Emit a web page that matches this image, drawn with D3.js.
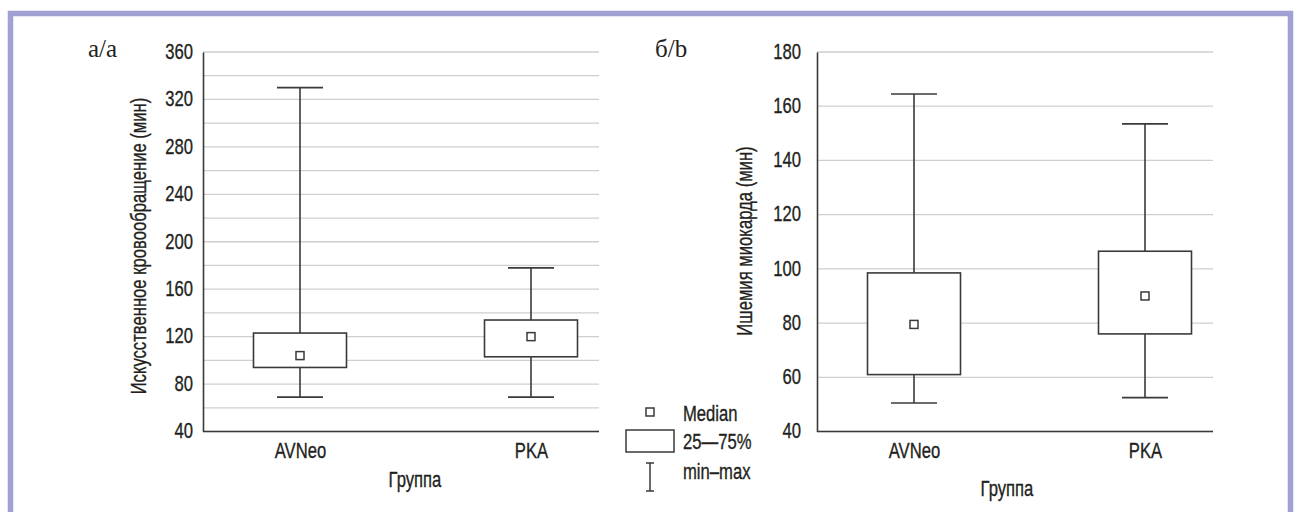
<!DOCTYPE html>
<html><head><meta charset="utf-8">
<script src="https://cdn.jsdelivr.net/npm/d3@7"></script>
<style>
html,body{margin:0;padding:0;background:#fff;}
svg{display:block;}
</style></head>
<body>
<svg id="c" width="1299" height="512"></svg>
<script>
// ---- data ----
const groups = ["AVNeo", "PKA"];
// panel a: Искусственное кровообращение (мин)
const cpbMin = [69, 69];
const cpbQ1 = [94, 103];
const cpbMed = [104, 120];
const cpbQ3 = [123, 134];
const cpbMax = [330, 178];
const cpbTicks = [40, 80, 120, 160, 200, 240, 280, 320, 360];
const cpbGrid = [40,60,80,100,120,140,160,180,200,220,240,260,280,300,320,340,360];
// panel b: Ишемия миокарда (мин)
const ischMin = [50.5, 52.5];
const ischQ1 = [61, 76];
const ischMed = [79.5, 90];
const ischQ3 = [98.5, 106.5];
const ischMax = [164.5, 153.5];
const ischTicks = [40, 60, 80, 100, 120, 140, 160, 180];
const legendLabels = ["Median", "25\u201475%", "min\u2013max"];

const svg = d3.select("#c");
const ink = "#3a3a3a";
const SANS = "'Liberation Sans', Arial, sans-serif";
const FS = 22.5, S = 0.74;

function condense(sel) {
  sel.style("font-family", SANS).style("font-size", FS + "px").style("fill", "#231f20")
    .style("stroke", "#231f20").style("stroke-width", "0.35px");
  sel.each(function () {
    const t = d3.select(this);
    const x = +(t.attr("x") || 0);
    t.attr("x", x / S);
    const tr = t.attr("transform") || "";
    t.attr("transform", tr + ` scale(${S},1)`);
  });
}

// frame
svg.append("path")
  .attr("d", "M10.5,520 L10.5,13.5 L1290.5,13.5 L1290.5,520")
  .attr("fill", "none").attr("stroke", "#a1a1d3").attr("stroke-width", 5.5);

function panel(opt) {
  const g = svg.append("g").attr("transform", `translate(${opt.left},0)`);
  const W = 396, top = 52, bottom = 431.5;
  const y = d3.scaleLinear().domain(opt.domain).range([bottom, top]);
  const x = d3.scalePoint().domain(groups).range([97, 328]);

  // grid
  g.append("g").selectAll("line").data(opt.grid).join("line")
    .attr("x1", 0).attr("x2", W)
    .attr("y1", d => y(d)).attr("y2", d => y(d))
    .attr("stroke", "#cfcfcf").attr("stroke-width", 1.3);

  // y axis
  const ya = d3.axisLeft(y).tickValues(opt.ticks).tickSize(0).tickPadding(opt.pad).tickFormat(d3.format("d"));
  const yg = g.append("g").call(ya);
  yg.select(".domain").attr("stroke", ink).attr("stroke-width", 1.6);
  yg.selectAll("text").attr("dy", "0.28em").call(condense);

  // x axis
  const xa = d3.axisBottom(x).tickSize(0).tickPadding(11);
  const xg = g.append("g").attr("transform", `translate(0,${bottom})`).call(xa);
  xg.select(".domain").attr("d", `M0,0H${W}`).attr("stroke", ink).attr("stroke-width", 1.6);
  xg.selectAll("text").attr("dy", "0.71em").call(condense);

  // boxes
  const data = groups.map((k, i) => ({k, mn: opt.mn[i], q1: opt.q1[i], md: opt.md[i], q3: opt.q3[i], mx: opt.mx[i]}));
  const b = g.append("g").selectAll("g").data(data).join("g");
  const bw = 93, cw = 46, ms = 8;
  b.append("line").attr("x1", d => x(d.k)).attr("x2", d => x(d.k))
    .attr("y1", d => y(d.mn)).attr("y2", d => y(d.mx)).attr("stroke", ink).attr("stroke-width", 1.6);
  b.append("line").attr("x1", d => x(d.k) - cw/2).attr("x2", d => x(d.k) + cw/2)
    .attr("y1", d => y(d.mn)).attr("y2", d => y(d.mn)).attr("stroke", ink).attr("stroke-width", 1.6);
  b.append("line").attr("x1", d => x(d.k) - cw/2).attr("x2", d => x(d.k) + cw/2)
    .attr("y1", d => y(d.mx)).attr("y2", d => y(d.mx)).attr("stroke", ink).attr("stroke-width", 1.6);
  b.append("rect").attr("x", d => x(d.k) - bw/2).attr("width", bw)
    .attr("y", d => y(d.q3)).attr("height", d => y(d.q1) - y(d.q3))
    .attr("fill", "#fff").attr("stroke", ink).attr("stroke-width", 1.6);
  b.append("rect").attr("x", d => x(d.k) - ms/2).attr("width", ms)
    .attr("y", d => y(d.md) - ms/2).attr("height", ms)
    .attr("fill", "#fff").attr("stroke", ink).attr("stroke-width", 1.5);

  // titles
  g.append("text").attr("transform", `translate(${opt.ytx},${opt.yty}) rotate(-90)`)
    .attr("text-anchor", "middle").text(opt.ytitle).call(condense);
  g.append("text").attr("x", opt.xtx).attr("y", opt.xty)
    .attr("text-anchor", "middle").text("Группа").call(condense);
  g.append("text").attr("x", opt.lx).attr("y", 57)
    .style("font-family", "'Liberation Serif', 'Times New Roman', serif").style("font-size", "25px")
    .style("fill", "#231f20").text(opt.letter);
}

panel({left: 203, domain: [40, 360], grid: cpbGrid, ticks: cpbTicks, pad: 10,
  mn: cpbMin, q1: cpbQ1, md: cpbMed, q3: cpbQ3, mx: cpbMax,
  ytitle: "Искусственное кровообращение (мин)", ytx: -57, yty: 246,
  xtx: 212, xty: 487, letter: "а/a", lx: -115});

panel({left: 817, domain: [40, 180], grid: ischTicks, ticks: ischTicks, pad: 16,
  mn: ischMin, q1: ischQ1, md: ischMed, q3: ischQ3, mx: ischMax,
  ytitle: "Ишемия миокарда (мин)", ytx: -65, yty: 241,
  xtx: 190, xty: 496, letter: "б/b", lx: -162});

// legend
const lg = svg.append("g");
lg.append("rect").attr("x", 646).attr("y", 408).attr("width", 8).attr("height", 8)
  .attr("fill", "#fff").attr("stroke", ink).attr("stroke-width", 1.5);
lg.append("rect").attr("x", 626).attr("y", 430).attr("width", 48).attr("height", 22)
  .attr("fill", "#fff").attr("stroke", ink).attr("stroke-width", 1.5);
lg.append("path").attr("d", "M650,463V491M646,463H654M646,491H654")
  .attr("fill", "none").attr("stroke", ink).attr("stroke-width", 1.5);
lg.selectAll("text.l").data(legendLabels).join("text").attr("class", "l")
  .attr("x", 683).attr("y", (d, i) => [421, 449.5, 479][i])
  .text(d => d).call(condense);
</script>
</body></html>
